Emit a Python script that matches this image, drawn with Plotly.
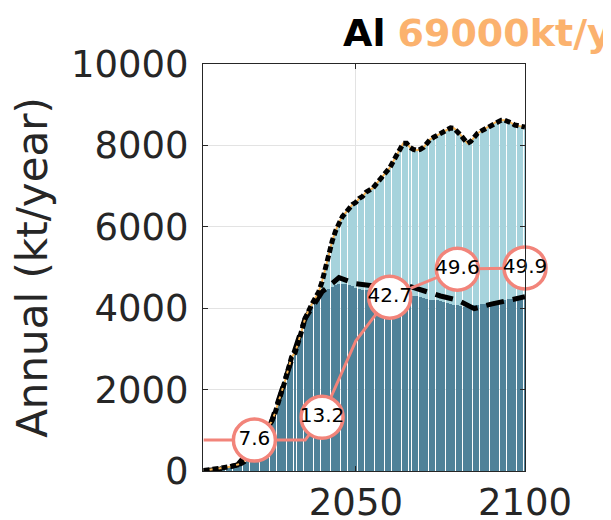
import plotly.graph_objects as go

years = list(range(2005, 2101))

total = [10, 20, 30, 40, 50, 60, 75, 90, 110, 130,
         150, 180, 230, 350, 500, 650, 800, 900, 1000, 1100,
         1200, 1400, 1650, 1900, 2200, 2500, 2800, 2900, 3150, 3450,
         3750, 3950, 4100, 4250, 4400, 4650, 5000, 5350, 5650, 5900,
         6100, 6250, 6350, 6450, 6550, 6600, 6700, 6750, 6850, 6900,
         6950, 7050, 7150, 7250, 7350, 7450, 7600, 7750, 7900, 8050,
         8050, 7950, 7900, 7880, 7900, 7950, 8050, 8150, 8200, 8250,
         8300, 8350, 8400, 8430, 8420, 8350, 8250, 8150, 8050, 8100,
         8200, 8300, 8350, 8400, 8450, 8500, 8550, 8600, 8620, 8620,
         8600, 8550, 8500, 8480, 8460, 8450]

primary = [10, 20, 30, 40, 50, 60, 75, 90, 110, 130,
           150, 180, 230, 350, 500, 650, 800, 900, 1000, 1100,
           1200, 1400, 1650, 1900, 2200, 2500, 2800, 2900, 3150, 3450,
           3750, 3950, 4050, 4150, 4250, 4350, 4420, 4480, 4530, 4570,
           4600, 4600, 4600, 4580, 4550, 4500, 4470, 4450, 4450, 4450,
           4450, 4450, 4450, 4440, 4440, 4430, 4420, 4400, 4380, 4360,
           4350, 4330, 4310, 4290, 4270, 4250, 4230, 4210, 4200, 4190,
           4170, 4150, 4130, 4110, 4090, 4070, 4050, 4030, 4030, 4050,
           4070, 4080, 4100, 4110, 4130, 4150, 4170, 4180, 4200, 4210,
           4220, 4230, 4240, 4250, 4255, 4260]

secondary = [t - p for t, p in zip(total, primary)]

dash_years = [2005, 2010, 2015, 2020, 2025, 2030, 2035, 2040, 2045, 2050,
              2055, 2060, 2065, 2070, 2075, 2080, 2085, 2090, 2095, 2100]
dash_vals = [0, 50, 150, 650, 1200, 2500, 3750, 4400, 4750, 4600,
             4550, 4500, 4560, 4420, 4300, 4200, 3990, 4100, 4200, 4280]

rate_years = [2005, 2010, 2015, 2020, 2025, 2030, 2035, 2040, 2045, 2050,
              2055, 2060, 2065, 2070, 2075, 2080, 2085, 2090, 2095, 2100]
rate_vals = [7.6, 7.6, 7.6, 7.6, 7.6, 7.6, 7.6, 13.2, 22.6, 32.0,
             37.5, 42.7, 44.5, 46.2, 47.9, 49.6, 49.7, 49.8, 49.8, 49.9]

label_years = [2020, 2040, 2060, 2080, 2100]
label_vals = [7.6, 13.2, 42.7, 49.6, 49.9]
label_text = ["7.6", "13.2", "42.7", "49.6", "49.9"]

y_ticks = [0, 2000, 4000, 6000, 8000, 10000]
x_ticks = [2050, 2100]

FONT = "DejaVu Sans"
SALMON = "#f2847a"

fig = go.Figure()
fig.add_trace(go.Bar(x=years, y=primary, marker=dict(color="#4f8299", line_width=0),
                     showlegend=False))
fig.add_trace(go.Bar(x=years, y=secondary, marker=dict(color="#a6d3dc", line_width=0),
                     showlegend=False))
fig.add_trace(go.Scatter(x=dash_years, y=dash_vals, mode="lines",
                         line=dict(color="black", width=5, dash="18px,9px"), showlegend=False))
fig.add_trace(go.Scatter(x=years, y=total, mode="lines",
                         line=dict(color="#f7b455", width=2), showlegend=False))
fig.add_trace(go.Scatter(x=years, y=total, mode="lines",
                         line=dict(color="black", width=5, dash="6px,3px"), showlegend=False))
fig.add_trace(go.Scatter(x=rate_years, y=rate_vals, mode="lines", yaxis="y2",
                         line=dict(color=SALMON, width=3), showlegend=False,
                         cliponaxis=False))
fig.add_trace(go.Scatter(x=label_years, y=label_vals, mode="markers+text", yaxis="y2",
                         text=label_text, textposition="middle center",
                         textfont=dict(family=FONT, size=20, color="black"),
                         marker=dict(size=42, color="white", line=dict(color=SALMON, width=3.5)),
                         showlegend=False, cliponaxis=False))

fig.update_layout(
    width=611, height=520,
    margin=dict(l=195, r=94, t=56, b=57, autoexpand=False),
    paper_bgcolor="white", plot_bgcolor="white",
    barmode="stack", bargap=0.12,
    font=dict(family=FONT, color="#262626"),
    xaxis=dict(range=[2004.8, 2100], tickvals=x_ticks, ticktext=[str(v) for v in x_ticks],
               ticks="inside", ticklen=5, tickcolor="#262626", automargin=False,
               showline=True, linecolor="#262626", linewidth=1, mirror="ticks",
               showgrid=True, gridcolor="#e3e3e3", gridwidth=1, ticklabelstandoff=-1,
               tickfont=dict(size=37, color="#262626"), zeroline=False),
    yaxis=dict(range=[0, 10000], tickvals=y_ticks, ticktext=[str(v) for v in y_ticks],
               ticks="inside", ticklen=5, tickcolor="#262626", automargin=False,
               showline=True, linecolor="#262626", linewidth=1, mirror="ticks",
               showgrid=True, gridcolor="#e3e3e3", gridwidth=1, ticklabelstandoff=6,
               tickfont=dict(size=37, color="#262626"), zeroline=False,
               title=dict(text="Annual (kt/year)", font=dict(size=42, color="#262626"),
                          standoff=14)),
    yaxis2=dict(range=[0, 100], overlaying="y", visible=False),
    annotations=[dict(
        text="<b>Al</b> <b><span style='color:#fbb26e'>69000kt/y</span></b>",
        xref="paper", yref="paper", x=(341 - 203) / 322, y=1.0, xanchor="left",
        yanchor="bottom", yshift=7, showarrow=False,
        font=dict(family=FONT, size=38, color="black"))],
)

fig.write_html("out.html")
